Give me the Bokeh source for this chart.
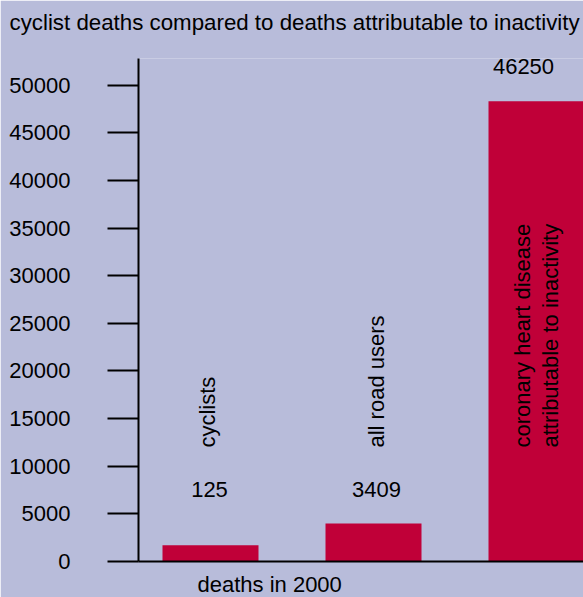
import numpy as np
from bokeh.plotting import figure
from bokeh.models import Range1d, FixedTicker, Title, LabelSet, ColumnDataSource
from bokeh.core.properties import value
from bokeh.embed import file_html
from bokeh.resources import INLINE

# ---- data ----
categories = ["cyclists", "all road users",
              "coronary heart disease\nattributable to inactivity"]
deaths = [125, 3409, 46250]            # printed values
bar_heights = [1700, 4000, 48300]      # drawn bar heights
y_ticks = [0, 5000, 10000, 15000, 20000, 25000, 30000, 35000, 40000, 45000, 50000]
title_text = "cyclist deaths compared to deaths attributable to inactivity"
x_label = "deaths in 2000"

# ---- layout / style ----
BG = "#b8bcda"
BAR = "#c00038"
FONT = "Liberation Sans"
FS = "22px"
value_label_y = [7560, 7560, 52000]
value_label_dx = [-1, 3, -13]
cat_label_dx = [-3, 3, 0]
cat_label_y = 11960

x = np.arange(len(categories))

p = figure(width=583, height=597, output_backend="svg", toolbar_location=None,
           x_range=Range1d(-0.4417, 2.2883), y_range=Range1d(0, 52790),
           min_border_left=138, min_border_right=0, min_border_bottom=36,
           min_border_top=58,
           background_fill_color=BG, border_fill_color=BG,
           outline_line_color=None)
p.grid.visible = False

# y axis
ya = p.yaxis[0]
ya.ticker = FixedTicker(ticks=y_ticks)
ya.major_tick_out = 31
ya.major_tick_in = 0
ya.minor_tick_out = 0
ya.minor_tick_in = 0
ya.major_tick_line_width = 2
ya.axis_line_width = 2
ya.major_label_standoff = 37
ya.major_label_text_font = FONT
ya.major_label_text_font_size = FS
ya.major_label_text_color = "black"

# x axis (line only)
xa = p.xaxis[0]
xa.ticker = FixedTicker(ticks=[])
xa.major_tick_line_color = None
xa.minor_tick_line_color = None
xa.major_tick_out = 0
xa.major_tick_in = 0
xa.major_label_standoff = 0
xa.axis_line_width = 2

p.vbar(x=x, top=bar_heights, bottom=0, width=0.589, fill_color=BAR, line_color=None)

src = ColumnDataSource(dict(x=x, vy=value_label_y, dx=value_label_dx, cdx=cat_label_dx,
                            vtxt=[str(v) for v in deaths], cat=categories,
                            cy=[cat_label_y] * len(categories)))

p.add_layout(LabelSet(x="x", y="vy", text="vtxt", x_offset="dx", source=src,
                      text_align="center", text_baseline="middle",
                      text_font=value(FONT), text_font_size=value(FS),
                      text_color="black"))
p.add_layout(LabelSet(x="x", y="cy", text="cat", x_offset="cdx", source=src,
                      angle=np.pi / 2,
                      text_align="left", text_baseline="middle",
                      text_font=value(FONT), text_font_size=value(FS),
                      text_color="black", text_line_height=1.1))

# spacer between the x axis and its label
p.add_layout(Title(text=" ", standoff=5, text_font_size="1px",
                   text_color="black"), "below")
p.add_layout(Title(text=x_label, align="left", offset=59, vertical_align="bottom",
                   standoff=0, text_font=FONT, text_font_size=FS,
                   text_font_style="normal", text_color="black"), "below")

# spacer between the frame and the title
p.add_layout(Title(text=" ", standoff=21, text_font_size="1px",
                   text_color="black"), "above")
p.add_layout(Title(text=title_text, align="left", offset=-129, vertical_align="bottom",
                   standoff=0, text_font=FONT, text_font_size="22.3px",
                   text_font_style="normal", text_color="black"), "above")

open("out.html", "w").write(file_html(p, INLINE))
